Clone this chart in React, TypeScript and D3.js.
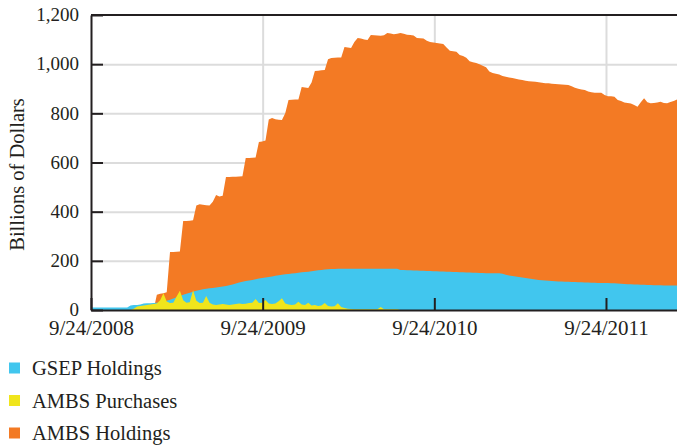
import React, { useRef, useEffect } from "react";
import * as d3 from "d3";

// weekly observations (Wednesdays) from 9/24/2008 through 2/22/2012
const weeks: Date[] = d3.timeWednesday.range(new Date(2008, 8, 24), new Date(2012, 1, 23));

const ambsHoldings = [
  0, 0, 0, 0, 0, 0, 0, 0, 0, 0,
  0, 0, 0, 0, 0, 0, 0, 0, 0, 0,
  62, 66, 68, 72, 236, 236, 237, 238, 362, 362,
  363, 365, 425, 430, 428, 426, 425, 440, 468, 462,
  465, 541, 541, 542, 542, 543, 544, 618, 618, 619,
  620, 683, 685, 690, 775, 781, 776, 774, 773, 800,
  854, 855, 856, 856, 907, 905, 903, 925, 972, 973,
  975, 976, 1020, 1025, 1026, 1027, 1027, 1070, 1068, 1066,
  1090, 1106, 1104, 1100, 1098, 1119, 1118, 1117, 1116, 1118,
  1127, 1125, 1122, 1124, 1127, 1124, 1120, 1119, 1117, 1106,
  1105, 1104, 1095, 1090, 1088, 1086, 1084, 1082, 1068, 1055,
  1053, 1051, 1037, 1033, 1026, 1012, 1008, 1005, 1000, 994,
  987, 970, 964, 961, 958, 952, 949, 946, 944, 941,
  938, 936, 933, 931, 929, 928, 926, 924, 922, 922,
  920, 919, 918, 917, 916, 915, 910, 904, 900, 897,
  895, 889, 886, 884, 884, 884, 875, 870, 869, 867,
  854, 850, 844, 842, 840, 834, 827, 845, 861, 845,
  841, 842, 844, 847, 842, 841, 846, 850, 856,
];

const gsepHoldings = [
  10, 10, 10, 10, 10, 10, 10, 10, 10, 10,
  10, 10, 18, 20, 20, 22, 26, 27, 27, 28,
  29, 30, 33, 38, 42, 47, 52, 57, 62, 66,
  70, 74, 78, 81, 84, 86, 88, 90, 92, 94,
  96, 98, 101, 104, 108, 112, 115, 118, 120, 122,
  125, 128, 130, 132, 134, 136, 139, 141, 143, 145,
  146, 148, 150, 152, 154, 155, 156, 158, 160, 162,
  163, 165, 166, 167, 167, 168, 168, 168, 168, 168,
  168, 168, 168, 168, 168, 168, 168, 168, 168, 168,
  168, 168, 168, 168, 163, 163, 162, 162, 161, 161,
  160, 160, 159, 159, 158, 158, 157, 157, 156, 156,
  155, 155, 154, 154, 153, 153, 152, 152, 151, 151,
  150, 150, 150, 150, 150, 147, 143, 140, 138, 136,
  134, 132, 130, 128, 126, 124, 122, 121, 120, 119,
  118, 117, 116, 116, 115, 115, 114, 114, 113, 113,
  112, 112, 111, 111, 110, 110, 110, 110, 109, 109,
  108, 107, 106, 105, 105, 104, 104, 103, 103, 102,
  102, 101, 101, 101, 100, 100, 100, 100, 100,
];

const ambsPurchases = [
  0, 0, 0, 0, 0, 0, 0, 0, 0, 0,
  0, 0, 0, 5, 14, 16, 18, 20, 22, 24,
  26, 40, 68, 35, 28, 30, 55, 78, 40, 30,
  32, 80, 38, 28, 30, 57, 30, 22, 20, 22,
  24, 22, 20, 22, 24, 26, 24, 25, 28, 30,
  45, 28, 30, 41, 26, 24, 26, 36, 48, 26,
  22, 20, 22, 34, 22, 20, 30, 18, 20, 16,
  18, 28, 16, 14, 15, 27, 12, 8, 5, 4,
  3, 3, 3, 3, 3, 3, 3, 3, 12, 3,
  3, 3, 3, 3, 0, 0, 0, 0, 0, 0,
  0, 0, 0, 0, 0, 0, 0, 0, 0, 0,
  0, 0, 0, 0, 0, 0, 0, 0, 0, 0,
  0, 0, 0, 0, 0, 0, 0, 0, 0, 0,
  0, 0, 0, 0, 0, 0, 0, 0, 0, 0,
  0, 0, 0, 0, 0, 0, 0, 0, 0, 0,
  0, 0, 0, 0, 0, 0, 0, 0, 0, 0,
  0, 0, 0, 0, 0, 0, 0, 0, 0, 0,
  0, 0, 0, 0, 0, 0, 0, 0, 0,
];

const yTicks = [0, 200, 400, 600, 800, 1000, 1200];
const xTicks = [new Date(2008, 8, 24), new Date(2009, 8, 24), new Date(2010, 8, 24), new Date(2011, 8, 24)];

// drawn back to front
const seriesNames = ["AMBS Holdings", "GSEP Holdings", "AMBS Purchases"];
const seriesValues = [ambsHoldings, gsepHoldings, ambsPurchases];
const seriesColors = ["#F37A24", "#41C6EE", "#F0E51C"];
const legendOrder = ["GSEP Holdings", "AMBS Purchases", "AMBS Holdings"];

export default function App() {
  const svgRef = useRef<SVGSVGElement | null>(null);

  useEffect(() => {
    const W = 677;
    const H = 446;
    const margin = { top: 15, right: 0, bottom: 136, left: 91 };
    const width = W - margin.left - margin.right;
    const height = H - margin.top - margin.bottom;
    const font = "'Liberation Serif', 'DejaVu Serif', serif";
    const ink = "#231F20";

    const svgEl = d3.select(svgRef.current);
    svgEl.selectAll("*").remove();
    svgEl.attr("width", W).attr("height", H);

    const g = svgEl.append("g").attr("transform", `translate(${margin.left},${margin.top})`);

    const x = d3
      .scaleTime()
      .domain([weeks[0], weeks[weeks.length - 1]])
      .range([0, width]);
    const y = d3.scaleLinear().domain([0, 1200]).range([height, 0]);

    // gridlines
    const gridY = g
      .append("g")
      .call(d3.axisLeft(y).tickValues(yTicks.slice(1, -1)).tickSize(-width).tickFormat(() => ""));
    const gridX = g
      .append("g")
      .attr("transform", `translate(0,${height})`)
      .call(d3.axisBottom<Date>(x).tickValues(xTicks.slice(1)).tickSize(-height).tickFormat(() => ""));
    [gridX, gridY].forEach((gr) => {
      gr.select(".domain").remove();
      gr.selectAll("line").attr("stroke", "#DCDCDC").attr("stroke-width", 2);
    });

    // areas
    seriesValues.forEach((vals, k) => {
      const area = d3
        .area<number>()
        .x((_, i) => x(weeks[i]))
        .y0(y(0))
        .y1((d) => y(d));
      g.append("path").datum(vals).attr("fill", seriesColors[k]).attr("d", area);
    });

    // axes
    const yAxis = g
      .append("g")
      .call(d3.axisLeft(y).tickValues(yTicks).tickSize(-12).tickPadding(12).tickSizeOuter(0).tickFormat(d3.format(",")));
    const xAxis = g
      .append("g")
      .attr("transform", `translate(0,${height})`)
      .call(
        d3
          .axisBottom<Date>(x)
          .tickValues(xTicks)
          .tickSize(-12)
          .tickPadding(10)
          .tickSizeOuter(0)
          .tickFormat(d3.timeFormat("%-m/%-d/%Y"))
      );
    [xAxis, yAxis].forEach((ax) => {
      ax.selectAll(".domain").attr("stroke", ink).attr("stroke-width", 2);
      ax.selectAll("line").attr("stroke", ink).attr("stroke-width", 2);
      ax.selectAll("text").attr("fill", ink).style("font-family", font);
    });
    yAxis.selectAll(".tick text").attr("dy", "0.3em").style("font-size", "19px");
    xAxis.selectAll(".tick text").attr("dy", "0.71em").style("font-size", "21px");

    // top frame line
    g.append("line")
      .attr("x1", 0)
      .attr("x2", width)
      .attr("y1", 0)
      .attr("y2", 0)
      .attr("stroke", ink)
      .attr("stroke-width", 2);

    // y title
    svgEl
      .append("text")
      .attr("transform", `translate(24,${margin.top + height / 2 + 12}) rotate(-90)`)
      .attr("text-anchor", "middle")
      .attr("fill", ink)
      .style("font-family", font)
      .style("font-size", "20.5px")
      .text("Billions of Dollars");

    // legend
    const legend = svgEl.append("g").attr("transform", "translate(9,368)");
    legendOrder.forEach((name, i) => {
      const row = legend.append("g").attr("transform", `translate(0,${i * 32.5})`);
      row.append("rect")
        .attr("x", 0)
        .attr("y", -5.5)
        .attr("width", 11)
        .attr("height", 11)
        .attr("fill", seriesColors[seriesNames.indexOf(name)]);
      row.append("text")
        .attr("x", 23)
        .attr("dy", "0.35em")
        .attr("fill", ink)
        .style("font-family", font)
        .style("font-size", "20.5px")
        .text(name);
    });
  }, []);

  return (
    <div style={{ position: "absolute", left: 0, top: 0 }}>
      <svg ref={svgRef} style={{ display: "block", background: "#fff" }} />
    </div>
  );
}
